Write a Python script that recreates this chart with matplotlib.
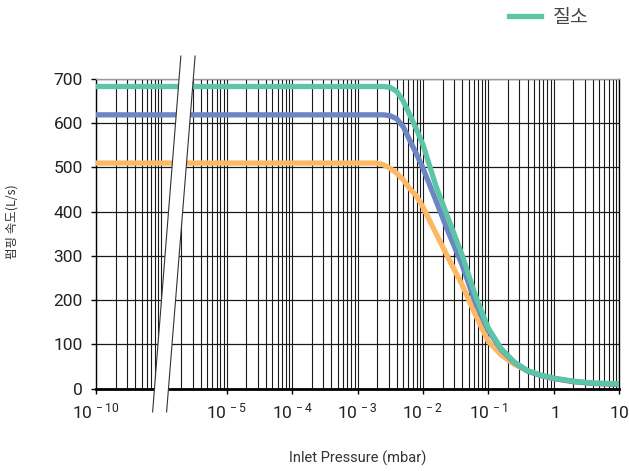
import numpy as np
import matplotlib
matplotlib.use("Agg")
import matplotlib.pyplot as plt
from matplotlib.patches import Polygon
from matplotlib.ticker import LogLocator, NullFormatter
from matplotlib.transforms import blended_transform_factory

plt.rcParams['font.family'] = ['Roboto', 'Noto Sans CJK KR', 'DejaVu Sans']
plt.rcParams['mathtext.fontset'] = 'custom'
plt.rcParams['mathtext.rm'] = 'Roboto'
plt.rcParams['mathtext.it'] = 'Roboto:italic'
plt.rcParams['mathtext.bf'] = 'Roboto:bold'

# inlet pressure, log10(mbar)
log_pressure = [-10, -2.7, -2.6, -2.5, -2.4, -2.3, -2.2, -2.1, -2.0, -1.8, -1.6,
                -1.4, -1.2, -1.0, -0.8, -0.6, -0.4, -0.2, 0.0, 0.3, 0.6, 1.0]

# pumping speed, L/s
speed_n2 = [683, 683, 683, 681, 672, 650, 619, 587, 552, 458, 380,
            302, 212, 137, 90, 60, 41, 31, 24, 17, 13, 11]
speed_mid = [619, 619, 619, 617, 610, 592, 561, 531, 499, 425, 350,
             280, 196, 132, 88, 59, 40, 30, 23, 16, 12, 10]
speed_low = [510, 510, 506, 498, 487, 472, 452, 436, 411, 351, 292,
             235, 168, 107, 76, 55, 40, 30, 23, 16, 12, 10]

tick_pressure = [1e-10, 1e-5, 1e-4, 1e-3, 1e-2, 1e-1, 1, 10]
tick_labels = [r'$\mathregular{10^{\,-10}}$', r'$\mathregular{10^{\,-5}}$',
               r'$\mathregular{10^{\,-4}}$', r'$\mathregular{10^{\,-3}}$',
               r'$\mathregular{10^{\,-2}}$', r'$\mathregular{10^{\,-1}}$',
               r'$\mathregular{1}$', r'$\mathregular{10}$']

GAP_DECADES = 3  # 1e-9 .. 1e-6 mbar is cut out of the axis


def to_axis(p):
    p = np.asarray(p, dtype=float)
    return np.where(p <= 1e-9, p * 10 ** GAP_DECADES, p)


pressure = 10 ** np.array(log_pressure, dtype=float)

fig = plt.figure(figsize=(6.29, 4.71), dpi=100)
ax = fig.add_axes([96 / 629, 1 - 388.7 / 471, 523 / 629, 309.7 / 471])

ax.plot(to_axis(pressure), speed_low, color='#fdb863', lw=3.8, label='_low',
        solid_joinstyle='round', zorder=3)
ax.plot(to_axis(pressure), speed_mid, color='#6b86c3', lw=3.8, label='_mid',
        solid_joinstyle='round', zorder=3)
ax.plot(to_axis(pressure), speed_n2, color='#5cc5a7', lw=3.8, label='질소',
        solid_joinstyle='round', zorder=3)

ax.set_xscale('log')
ax.set_xlim(1e-7, 10)
ax.set_ylim(0, 700)

ax.set_xticks(to_axis(tick_pressure))
ax.set_xticklabels(tick_labels, va='baseline')
ax.xaxis.set_minor_locator(LogLocator(base=10, subs=np.arange(1, 10), numticks=100))
ax.xaxis.set_minor_formatter(NullFormatter())
ax.set_yticks(np.arange(0, 701, 100))

ax.tick_params(axis='x', which='major', length=3.6, width=1, pad=17.5,
               labelsize=12.5, labelcolor='#222')
ax.tick_params(axis='x', which='minor', length=0)
ax.tick_params(axis='y', length=3.6, width=1, pad=6, labelsize=12.5,
               labelcolor='#222')

ax.grid(which='both', axis='x', color='#1a1a1a', lw=0.8)
ax.grid(which='major', axis='y', color='#1a1a1a', lw=0.9)
ax.set_axisbelow(True)

ax.spines['bottom'].set_linewidth(2)
ax.spines['left'].set_linewidth(1)
ax.spines['right'].set_linewidth(1)
ax.spines['top'].set_linewidth(1)
ax.spines['top'].set_color('#999999')

ax.set_xlabel('Inlet Pressure (mbar)', fontsize=10.5, color='#333', va='center')
ax.xaxis.set_label_coords(0.5, -(458 - 388.7) / 309.7)
ax.set_ylabel('펌핑 속도(L/s)', fontsize=9, color='#333',
              family=['Noto Sans CJK KR', 'DejaVu Sans'])
ax.yaxis.set_label_coords(-(96 - 18.5) / 523, 0.54)

# axis break between 1e-10 and 1e-5
trans = blended_transform_factory(ax.transData, ax.transAxes)
y_top, y_bot = 1.074, -0.075
x_tl, x_tr = 10 ** -5.702, 10 ** -5.484
x_bl, x_br = 10 ** -6.134, 10 ** -5.920
ax.add_patch(Polygon([(x_bl, y_bot), (x_tl, y_top), (x_tr, y_top), (x_br, y_bot)],
                     closed=True, facecolor='white', edgecolor='none',
                     transform=trans, clip_on=False, zorder=5))
for xb, xt in [(x_bl, x_tl), (x_br, x_tr)]:
    ax.plot([xb, xt], [y_bot, y_top], transform=trans, clip_on=False,
            color='#333', lw=0.8, zorder=6)

fig.legend(loc='center left', bbox_to_anchor=(509 / 629, 1 - 17 / 471),
           frameon=False, handlelength=1.65, handletextpad=0.6,
           borderpad=0, borderaxespad=0, labelcolor='#444',
           prop={'family': ['Noto Sans CJK KR', 'DejaVu Sans'], 'size': 14})

fig.savefig('out.png', dpi=100)
